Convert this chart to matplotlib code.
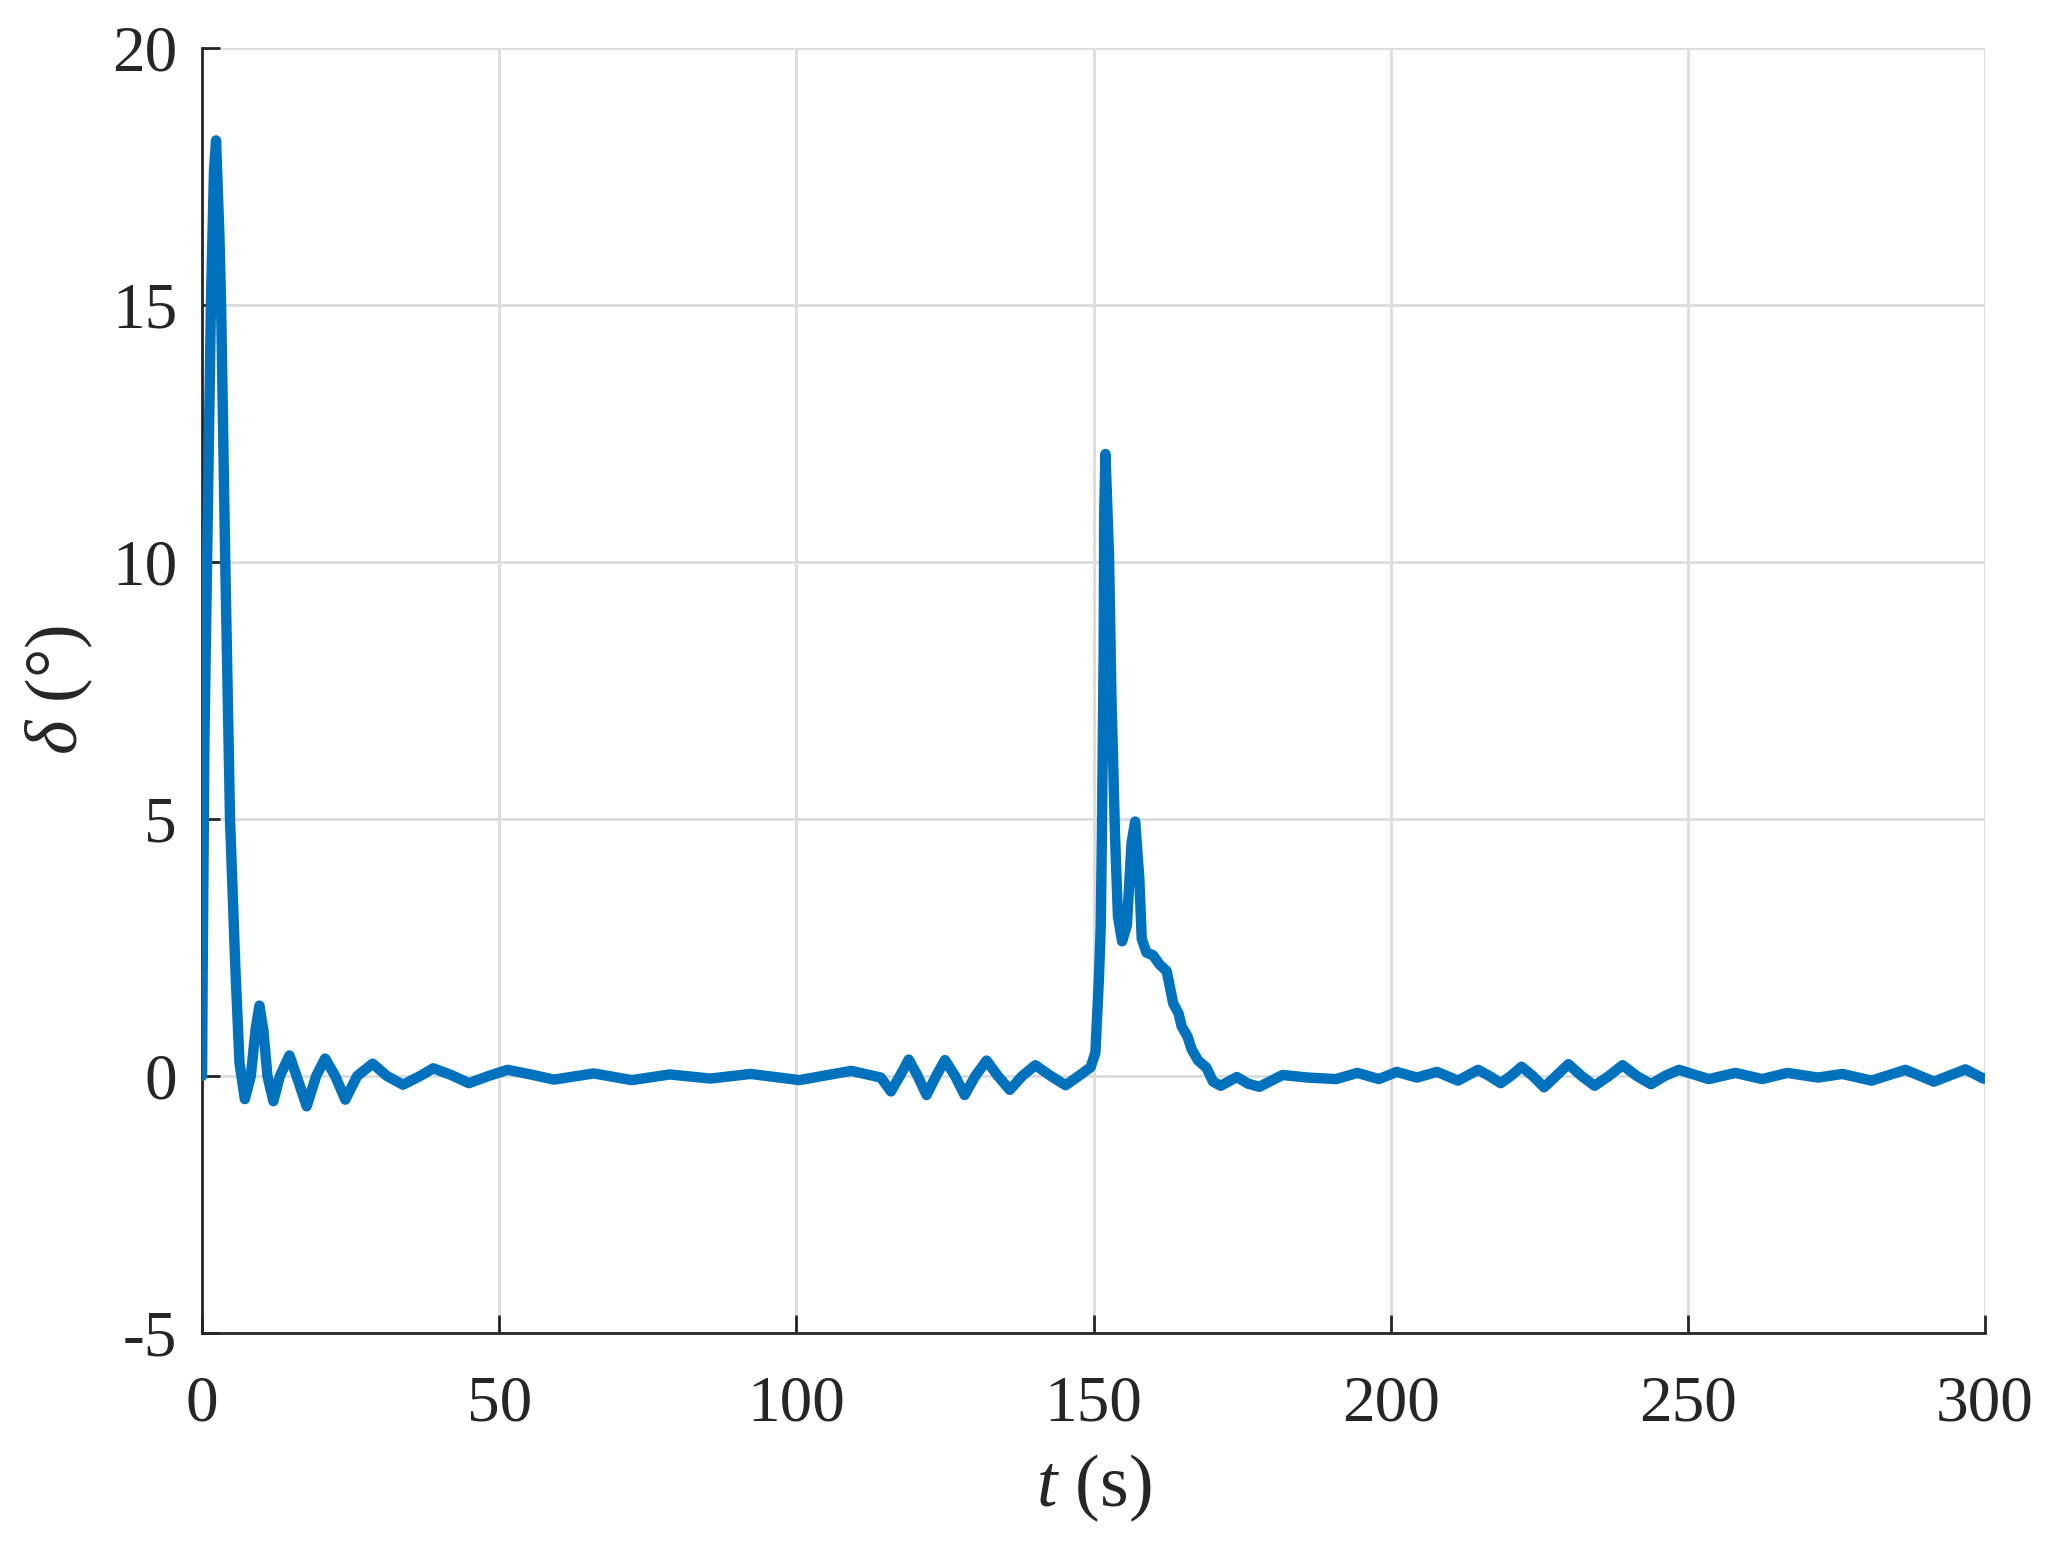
import matplotlib
matplotlib.use("Agg")
import matplotlib.pyplot as plt

# Rudder angle response
## time stamps (s) and angle values (deg)
t_s = [
    0.0, 0.1, 0.4, 1.0, 1.5, 2.0, 2.35, 2.9, 3.2, 3.9, 4.7, 5.6, 6.3, 7.2,
    8.2, 9.0, 9.65, 10.3, 11.0, 12.0, 13.1, 14.7, 15.9, 17.6, 19.2, 20.7,
    22.4, 24.1, 26.1, 28.7, 31.1, 33.8, 36.7, 38.9, 41.9, 44.9,
    48.2, 51.4, 55.3, 59.2, 65.9, 72.3, 78.7, 85.5, 92.3, 100.5, 109.2,
    114.2, 115.9, 117.4, 118.9, 120.4, 121.9, 123.5, 125.0, 126.7, 128.3,
    130.1, 132.0, 133.9, 135.9, 138.0, 140.2, 142.8, 145.3, 147.5, 149.5,
    150.3, 150.9, 151.2, 151.4, 151.7, 151.8, 152.0, 152.6, 153.0, 153.6,
    154.1, 154.8, 155.6, 156.4, 157.0, 157.7, 158.1, 158.9, 160.0, 161.1,
    162.3, 163.4, 164.3, 164.8, 165.8, 166.5, 167.6, 169.0, 170.1, 171.4,
    174.1, 176.0, 177.9, 181.8, 186.0, 190.8, 194.4, 198.0, 201.0, 204.4,
    207.8, 211.3, 214.7, 216.6, 218.5, 220.2, 222.0, 223.9, 225.8, 227.8,
    229.9, 232.1, 234.3, 236.7, 239.0, 241.4, 243.8, 246.1, 248.5, 253.5,
    258.0, 262.5, 266.7, 271.9, 276.0, 280.9, 286.6, 291.4, 296.7, 299.7,
    300.0,
]
delta_deg = [
    0.0, 2.0, 6.6, 11.2, 15.1, 17.6, 18.2, 16.4, 15.0, 10.0, 5.0, 2.1, 0.25, -0.45,
    0.0, 0.9, 1.37, 0.9, 0.0, -0.49, 0.0, 0.40, 0.0, -0.59, 0.0, 0.34,
    0.0, -0.46, 0.0, 0.24, 0.0, -0.17, 0.0, 0.15, 0.02, -0.14,
    0.0, 0.12, 0.03, -0.07, 0.05, -0.08, 0.03, -0.05, 0.04, -0.08, 0.1,
    -0.03, -0.30, 0.0, 0.32, 0.0, -0.37, 0.0, 0.31, 0.0, -0.37,
    0.0, 0.30, 0.0, -0.27, 0.0, 0.21, 0.0, -0.18, 0.0, 0.17,
    0.45, 1.9, 2.9, 4.7, 8.3, 11.0, 12.1, 10.1, 7.4, 4.7,
    3.1, 2.62, 2.93, 4.54, 4.95, 3.83, 2.67, 2.4, 2.35, 2.17,
    2.04, 1.41, 1.22, 0.97, 0.77, 0.52, 0.3, 0.16, -0.11, -0.19,
    -0.02, -0.15, -0.21, 0.02, -0.03, -0.06, 0.06, -0.06, 0.08, -0.03,
    0.08, -0.09, 0.12, 0.0, -0.14, 0.0, 0.18, 0.0, -0.22, 0.0,
    0.23, 0.0, -0.19, 0.0, 0.21, 0.0, -0.16, 0.0, 0.12, -0.06,
    0.06, -0.06, 0.06, -0.03, 0.04, -0.09, 0.12, -0.11, 0.13, -0.05,
    -0.05,
]
x_ticks = [0, 50, 100, 150, 200, 250, 300]
y_ticks = [-5, 0, 5, 10, 15, 20]

# Global style (MATLAB-like look with a Times-style serif)
plt.rcParams['font.family'] = ['Liberation Serif', 'DejaVu Serif']
plt.rcParams['mathtext.fontset'] = 'custom'
plt.rcParams['mathtext.rm'] = 'Liberation Serif'
plt.rcParams['mathtext.it'] = 'Liberation Serif:italic'
plt.rcParams['axes.unicode_minus'] = False

fig = plt.figure(figsize=(20.62, 15.45), dpi=100)
ax = fig.add_axes([0.098, 0.1372, 0.8647, 0.8318])

## main trace
ax.plot(t_s, delta_deg, color='#0072BD', lw=7.5,
        solid_joinstyle='round', solid_capstyle='round', zorder=3)

## limits, ticks and grid
ax.set_xlim(0, 300)
ax.set_ylim(-5, 20)
ax.set_xticks(x_ticks)
ax.set_yticks(y_ticks)
ax.grid(True, color='#dcdcdc', lw=2.0, zorder=0)
ax.set_axisbelow(True)

for side in ['top', 'right']:
    ax.spines[side].set_visible(False)
for side in ['left', 'bottom']:
    ax.spines[side].set_color('#262626')
    ax.spines[side].set_linewidth(2.0)

ax.tick_params(axis='both', direction='in', length=13, width=2.0,
               colors='#262626', labelsize=47)
ax.tick_params(axis='x', pad=30)
ax.tick_params(axis='y', pad=18)

## axis labels
ax.set_xlabel(r'$t$ (s)', fontsize=53, color='#262626')
ax.set_ylabel(r'$\delta$ (°)', fontsize=53, color='#262626')
ax.xaxis.set_label_coords(0.5, -0.121)
ax.xaxis.label.set_va('center')
ax.yaxis.set_label_coords(-0.080, 0.5)
ax.yaxis.label.set_va('center')

fig.savefig('out.png', dpi=100)
